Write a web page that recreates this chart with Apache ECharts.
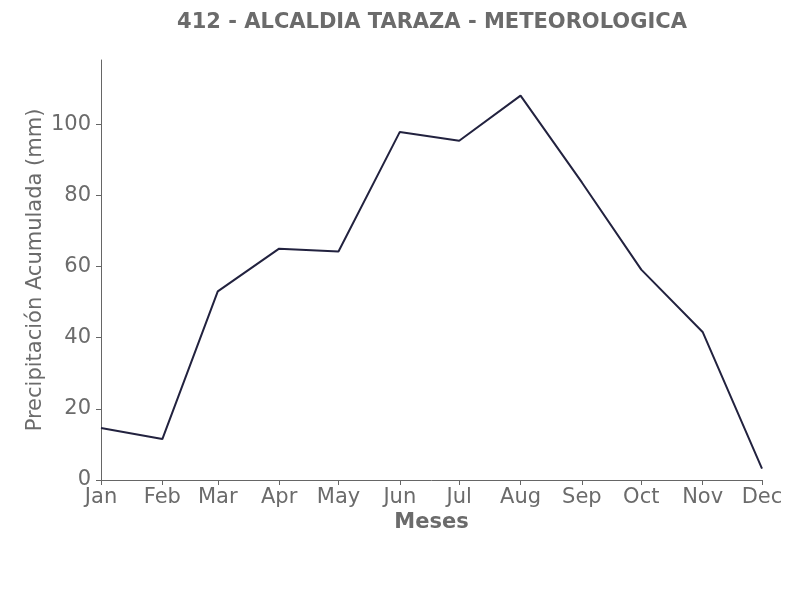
<!DOCTYPE html>
<html>
<head>
<meta charset="utf-8">
<script src="https://cdn.jsdelivr.net/npm/echarts@6/dist/echarts.min.js"></script>
<style>html,body{margin:0;padding:0;background:#fff}#c{width:806px;height:600px}</style>
</head>
<body>
<div id="c"></div>
<script>
var months = ['Jan','Feb','Mar','Apr','May','Jun','Jul','Aug','Sep','Oct','Nov','Dec'];
var monthStartDays = [0,31,59,90,120,151,181,212,243,273,304,334];
var precipitation = [14.6,11.5,53.0,65.0,64.2,97.8,95.3,108.0,83.6,59.1,41.6,3.2];
var yTicks = [0,20,40,60,80,100];

var txt = '#6b6b6b';
var chart = echarts.init(document.getElementById('c'), null, {renderer:'canvas'});
chart.setOption({
  animation:false,
  title:{
    text:'412 - ALCALDIA TARAZA - METEOROLOGICA',
    left:427, textAlign:'center', top:7,
    textStyle:{fontFamily:'DejaVu Sans', fontWeight:'bold', fontSize:21, color:txt}
  },
  grid:{left:101, right:44, top:60, bottom:120},
  xAxis:{
    type:'value', min:0, max:334,
    name:'Meses', nameLocation:'middle', nameGap:32, nameMoveOverlap:false,
    nameTextStyle:{fontFamily:'DejaVu Sans', fontWeight:'bold', fontSize:21, color:txt},
    axisLine:{lineStyle:{color:'#666', width:1}},
    axisTick:{show:true, length:5, customValues:monthStartDays, lineStyle:{color:'#666'}},
    axisLabel:{customValues:monthStartDays, fontFamily:'DejaVu Sans', fontSize:21, color:txt, margin:7,
      formatter:function(v){var i=monthStartDays.indexOf(v);return i>=0?months[i]:'';}},
    splitLine:{show:false}
  },
  yAxis:{
    type:'value', min:0, max:118,
    name:'Precipitación Acumulada (mm)', nameLocation:'middle', nameGap:55, nameMoveOverlap:false,
    nameTextStyle:{fontFamily:'DejaVu Sans', fontSize:21, color:txt},
    axisLine:{show:true, lineStyle:{color:'#666', width:1}},
    axisTick:{show:true, length:5, customValues:yTicks, lineStyle:{color:'#666'}},
    axisLabel:{customValues:yTicks, fontFamily:'DejaVu Sans', fontSize:21, color:txt, margin:10},
    splitLine:{show:false}
  },
  series:[{
    type:'line',
    data:monthStartDays.map(function(d,i){return [d, precipitation[i]];}),
    showSymbol:false, symbol:'none',
    lineStyle:{color:'#22223f', width:2}
  }]
});
</script>
</body>
</html>
